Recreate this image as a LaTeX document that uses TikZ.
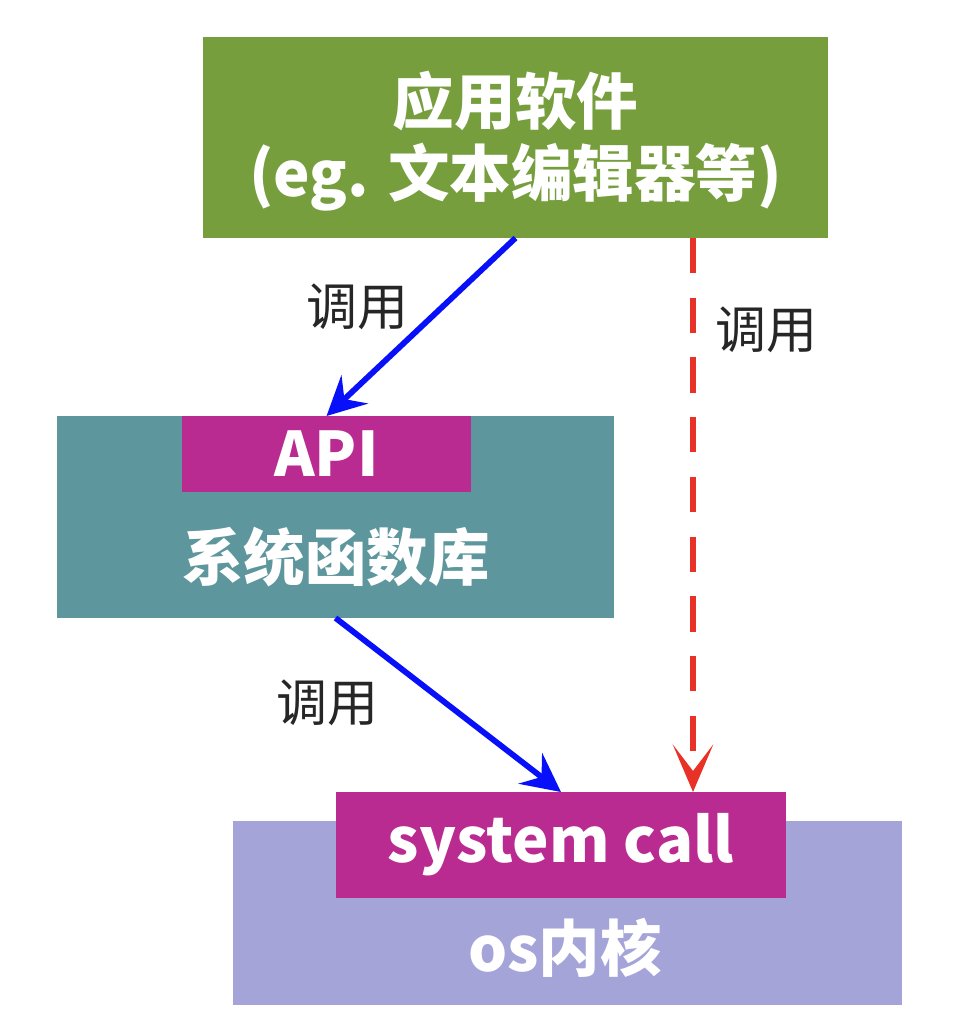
\documentclass[tikz,border=0pt]{standalone}
\usepackage{fontspec}
\newfontfamily\cjk{Noto Sans CJK SC}
\usetikzlibrary{arrows.meta}
\definecolor{appgreen}{RGB}{118,158,61}
\definecolor{libteal}{RGB}{93,150,156}
\definecolor{callpink}{RGB}{186,43,145}
\definecolor{osviolet}{RGB}{164,164,217}
\definecolor{callblue}{RGB}{8,16,250}
\definecolor{callred}{RGB}{232,50,40}
\tikzset{
  box/.style={inner sep=0pt, outer sep=0pt},
  boxtext/.style={text=white, font=\cjk\bfseries\fontsize{35}{41}\selectfont, align=center},
  calltext/.style={text=black!85, font=\cjk\fontsize{29}{33}\selectfont},
  callarrow/.style={draw=callblue, line width=3.3pt, -{Stealth[length=22pt,width=22pt,inset=8pt]}},
  directarrow/.style={draw=callred, line width=3.3pt, dash pattern=on 20pt off 14pt,
    -{Stealth[length=27pt,width=23pt,inset=15pt]}}
}
\begin{document}
\begin{tikzpicture}[x=0.02cm, y=-0.02cm, line join=round]
	\useasboundingbox (0,0) rectangle (972,1034);
	% Các khối
	\node[box, fill=appgreen, minimum width=12.5cm, minimum height=4.02cm] (app) at (515.5,137.5) {};
	\node[boxtext] (apptxt) at (515.5,141) {应用软件\\(eg. 文本编辑器等)};
	\node[box, fill=libteal, minimum width=11.14cm, minimum height=4.04cm] (lib) at (335.5,517) {};
	\node[box, fill=callpink, minimum width=5.78cm, minimum height=1.52cm] (api) at (326.5,454) {};
	\node[boxtext] (apitxt) at (326.5,454) {API};
	\node[boxtext] (libtxt) at (336,557) {系统函数库};
	\node[box, fill=osviolet, minimum width=13.38cm, minimum height=3.68cm] (os) at (567.5,913) {};
	\node[box, fill=callpink, minimum width=9cm, minimum height=2.12cm] (sys) at (561,845) {};
	\node[boxtext] (systxt) at (561,845) {system call};
	\node[boxtext] (ostxt) at (565,948) {os内核};
	% Mũi tên
	\coordinate (r) at (693,238);
	\draw[callarrow] (app.south) -- (api.north);
	\draw[callarrow] (lib.south) -- (sys.north);
	\draw[directarrow] (r) -- (r |- sys.north);
	\node[calltext] (c1) at (357,307) {调用};
	\node[calltext] (c2) at (327,703) {调用};
	\node[calltext] (c3) at (766,330) {调用};
\end{tikzpicture}
\end{document}
